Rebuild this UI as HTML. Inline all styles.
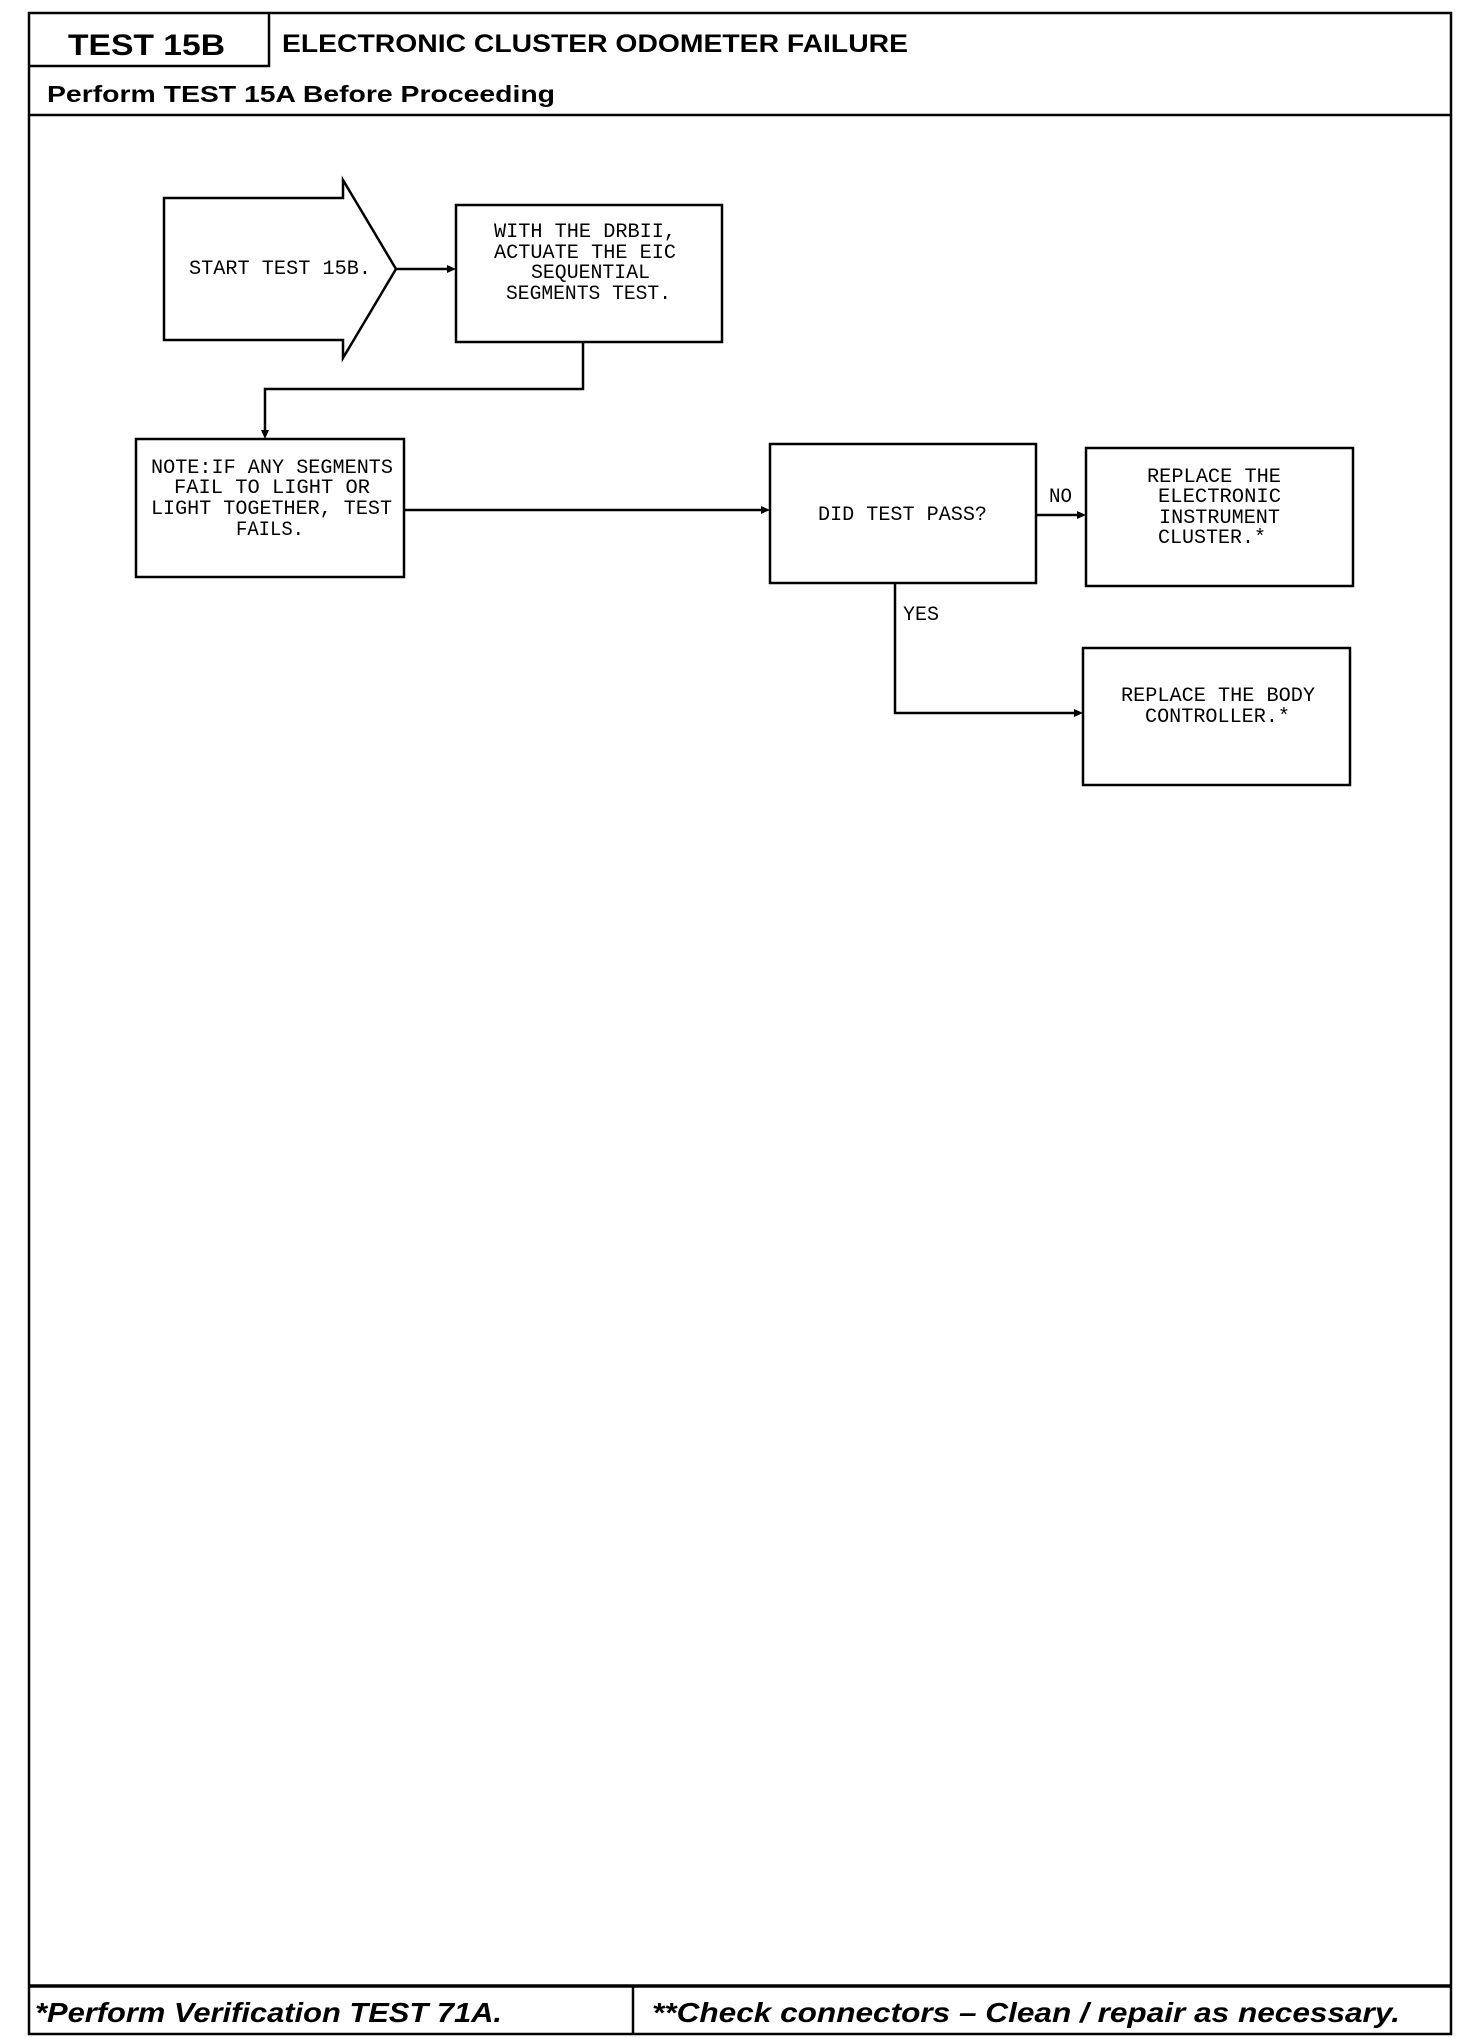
<!DOCTYPE html>
<html><head><meta charset="utf-8"><style>
body{margin:0;background:#fff}
svg{display:block}
.m{font-family:"Liberation Mono",monospace;font-size:20px}
</style></head><body>
<svg width="1472" height="2038" viewBox="0 0 1472 2038" xmlns="http://www.w3.org/2000/svg">
<g fill="none" stroke="#000" stroke-width="2.5">
<rect x="29" y="13" width="1422" height="2021"/>
<line x1="29" y1="115" x2="1451" y2="115"/>
<polyline points="29,66 269,66 269,13"/>
<line x1="29" y1="1986" x2="1451" y2="1986" stroke-width="3.5"/>
<line x1="633" y1="1986" x2="633" y2="2034"/>
<polygon points="164,198 343,198 343,180 396,269 343,358 343,340 164,340"/>
<rect x="456" y="205" width="266" height="137"/>
<rect x="136" y="439" width="268" height="138"/>
<rect x="770" y="444" width="266" height="139"/>
<rect x="1086" y="448" width="267" height="138"/>
<rect x="1083" y="648" width="267" height="137"/>
<line x1="396" y1="269" x2="452" y2="269"/>
<polyline points="583,342 583,389 265,389 265,435"/>
<line x1="404" y1="510" x2="766" y2="510"/>
<line x1="1036" y1="515" x2="1082" y2="515"/>
<polyline points="895,583 895,713 1079,713"/>
</g>
<g fill="#000">
<polygon points="456,269 447,265 447,273"/>
<polygon points="265,439 261,430 269,430"/>
<polygon points="770,510 761,506 761,514"/>
<polygon points="1086,515 1077,511 1077,519"/>
<polygon points="1083,713 1074,709 1074,717"/>
</g>
<g font-family="Liberation Sans,sans-serif" font-weight="bold" lengthAdjust="spacingAndGlyphs">
<text x="68" y="55" font-size="30" textLength="157" lengthAdjust="spacingAndGlyphs">TEST 15B</text>
<text x="282" y="52" font-size="25" textLength="626" lengthAdjust="spacingAndGlyphs">ELECTRONIC CLUSTER ODOMETER FAILURE</text>
<text x="47" y="102" font-size="23" textLength="508" lengthAdjust="spacingAndGlyphs">Perform TEST 15A Before Proceeding</text>
<text x="35" y="2022" font-size="28" font-style="italic" textLength="467" lengthAdjust="spacingAndGlyphs">*Perform Verification TEST 71A.</text>
<text x="652" y="2022" font-size="28" font-style="italic" textLength="748" lengthAdjust="spacingAndGlyphs">**Check connectors – Clean / repair as necessary.</text>
</g>
<g class="m">
<text x="189" y="274" textLength="182" lengthAdjust="spacingAndGlyphs">START TEST 15B.</text>
<text x="494" y="237" textLength="182" lengthAdjust="spacingAndGlyphs">WITH THE DRBII,</text>
<text x="494" y="258" textLength="182" lengthAdjust="spacingAndGlyphs">ACTUATE THE EIC</text>
<text x="531" y="278" textLength="119" lengthAdjust="spacingAndGlyphs">SEQUENTIAL</text>
<text x="506" y="299" textLength="165" lengthAdjust="spacingAndGlyphs">SEGMENTS TEST.</text>
<text x="151" y="473" textLength="242" lengthAdjust="spacingAndGlyphs">NOTE:IF ANY SEGMENTS</text>
<text x="174" y="493" textLength="196" lengthAdjust="spacingAndGlyphs">FAIL TO LIGHT OR</text>
<text x="151" y="514" textLength="241" lengthAdjust="spacingAndGlyphs">LIGHT TOGETHER, TEST</text>
<text x="236" y="535" textLength="68" lengthAdjust="spacingAndGlyphs">FAILS.</text>
<text x="818" y="520" textLength="169" lengthAdjust="spacingAndGlyphs">DID TEST PASS?</text>
<text x="1147" y="482" textLength="134" lengthAdjust="spacingAndGlyphs">REPLACE THE</text>
<text x="1158" y="502" textLength="123" lengthAdjust="spacingAndGlyphs">ELECTRONIC</text>
<text x="1159" y="523" textLength="121" lengthAdjust="spacingAndGlyphs">INSTRUMENT</text>
<text x="1158" y="543" textLength="108" lengthAdjust="spacingAndGlyphs">CLUSTER.*</text>
<text x="1121" y="701" textLength="194" lengthAdjust="spacingAndGlyphs">REPLACE THE BODY</text>
<text x="1145" y="722" textLength="145" lengthAdjust="spacingAndGlyphs">CONTROLLER.*</text>
<text x="1049" y="502" textLength="23" lengthAdjust="spacingAndGlyphs">NO</text>
<text x="903" y="620" textLength="36" lengthAdjust="spacingAndGlyphs">YES</text>
</g>
</svg>
</body></html>
